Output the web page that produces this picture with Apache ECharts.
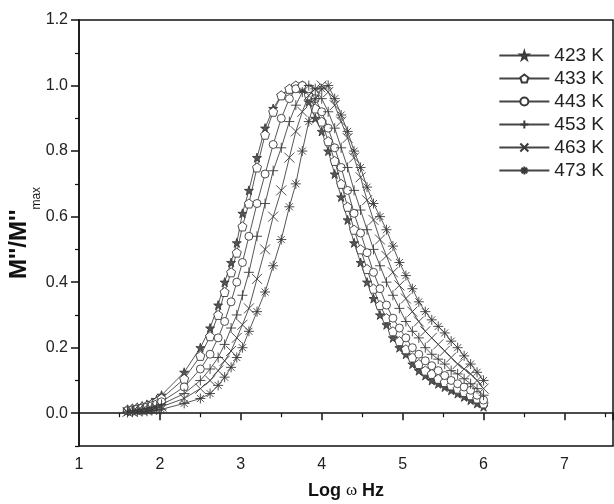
<!DOCTYPE html>
<html>
<head>
<meta charset="utf-8">
<script src="https://cdn.jsdelivr.net/npm/echarts@6/dist/echarts.min.js"></script>
<style>
  html, body { margin: 0; padding: 0; background: #fff; }
  #main { width: 614px; height: 504px; }
</style>
</head>
<body>
<div id="main"></div>
<script>
// log of angular frequency, shared by all temperatures
var logW = [1.60, 1.66, 1.72, 1.78, 1.84, 1.90, 1.96, 2.02,
            2.30, 2.50, 2.62, 2.72, 2.80, 2.88, 2.95, 3.02, 3.10,
            3.20, 3.30, 3.40, 3.50, 3.60,
            3.68, 3.76, 3.84, 3.92, 4.00, 4.08, 4.16, 4.24, 4.32, 4.40,
            4.48, 4.56, 4.64, 4.72, 4.80, 4.88, 4.96, 5.04, 5.12, 5.20,
            5.28, 5.36, 5.44, 5.52, 5.60, 5.68, 5.76, 5.84, 5.92, 6.00];

var m423 = [0.012, 0.015, 0.018, 0.022, 0.027, 0.033, 0.042, 0.055,
            0.125, 0.20, 0.26, 0.33, 0.40, 0.46, 0.52, 0.61, 0.68,
            0.78, 0.87, 0.93, 0.97, 0.99,
            1.00, 0.99, 0.95, 0.90, 0.86, 0.80, 0.73, 0.66, 0.59, 0.52,
            0.46, 0.40, 0.35, 0.30, 0.27, 0.23, 0.20, 0.18, 0.15, 0.13,
            0.115, 0.10, 0.09, 0.08, 0.07, 0.06, 0.05, 0.04, 0.03, 0.02];
var m433 = [0.010, 0.013, 0.016, 0.019, 0.023, 0.028, 0.035, 0.045,
            0.105, 0.175, 0.235, 0.30, 0.37, 0.43, 0.49, 0.57, 0.64,
            0.75, 0.85, 0.92, 0.97, 0.99,
            1.00, 1.00, 0.97, 0.93, 0.89, 0.83, 0.77, 0.70, 0.63, 0.56,
            0.50, 0.44, 0.38, 0.33, 0.29, 0.25, 0.22, 0.195, 0.17, 0.15,
            0.13, 0.12, 0.105, 0.095, 0.085, 0.075, 0.065, 0.055, 0.045, 0.03];
var m443 = [0.008, 0.010, 0.013, 0.016, 0.019, 0.023, 0.028, 0.035,
            0.08, 0.135, 0.18, 0.23, 0.28, 0.34, 0.40, 0.46, 0.54,
            0.64, 0.73, 0.82, 0.90, 0.96,
            0.99, 1.00, 0.99, 0.96, 0.92, 0.87, 0.81, 0.75, 0.68, 0.61,
            0.55, 0.49, 0.43, 0.38, 0.33, 0.29, 0.26, 0.23, 0.20, 0.18,
            0.16, 0.145, 0.13, 0.115, 0.10, 0.09, 0.08, 0.07, 0.055, 0.04];
var m453 = [0.006, 0.008, 0.010, 0.012, 0.015, 0.018, 0.022, 0.027,
            0.06, 0.10, 0.135, 0.17, 0.21, 0.26, 0.30, 0.36, 0.43,
            0.54, 0.64, 0.74, 0.81, 0.89,
            0.94, 0.98, 1.00, 0.99, 0.96, 0.92, 0.87, 0.81, 0.75, 0.68,
            0.62, 0.56, 0.50, 0.45, 0.40, 0.36, 0.32, 0.28, 0.25, 0.23,
            0.20, 0.18, 0.165, 0.15, 0.13, 0.12, 0.105, 0.09, 0.075, 0.055];
var m463 = [0.004, 0.005, 0.007, 0.009, 0.011, 0.013, 0.016, 0.020,
            0.045, 0.075, 0.10, 0.13, 0.16, 0.19, 0.23, 0.27, 0.32,
            0.41, 0.50, 0.60, 0.68, 0.78,
            0.86, 0.92, 0.97, 0.99, 1.00, 0.98, 0.94, 0.89, 0.84, 0.78,
            0.72, 0.65, 0.59, 0.53, 0.48, 0.43, 0.39, 0.35, 0.31, 0.28,
            0.25, 0.23, 0.21, 0.19, 0.17, 0.15, 0.135, 0.12, 0.10, 0.075];
var m473 = [0.002, 0.003, 0.004, 0.005, 0.006, 0.008, 0.010, 0.012,
            0.03, 0.045, 0.06, 0.085, 0.11, 0.14, 0.17, 0.20, 0.25,
            0.31, 0.37, 0.45, 0.53, 0.63,
            0.70, 0.80, 0.89, 0.96, 0.99, 1.00, 0.96, 0.91, 0.86, 0.80,
            0.75, 0.69, 0.64, 0.60, 0.56, 0.51, 0.46, 0.42, 0.38, 0.34,
            0.31, 0.285, 0.265, 0.245, 0.22, 0.20, 0.175, 0.15, 0.125, 0.10];

var names = ['423 K', '433 K', '443 K', '453 K', '463 K', '473 K'];
var yTicks = [0, 0.2, 0.4, 0.6, 0.8, 1.0, 1.2];
var yMinor = [-0.1, 0.1, 0.3, 0.5, 0.7, 0.9, 1.1];

var chart = echarts.init(document.getElementById('main'), null, {renderer: 'canvas'});

var ink = '#3a3a3a';
var marks = [
    {sym: 'path://M50 0 L61 35 L98 35 L68 57 L79 91 L50 70 L21 91 L32 57 L2 35 L39 35 Z', size: 9, fill: '#555'},
    {sym: 'path://M50 0 L98 36 L80 95 L20 95 L2 36 Z', size: 9, fill: '#fff'},
    {sym: 'circle', size: 8, fill: '#fff'},
    {sym: 'path://M50 0 L50 100 M0 50 L100 50', size: 10, fill: '#fff'},
    {sym: 'path://M0 0 L100 100 M100 0 L0 100', size: 10, fill: '#fff'},
    {sym: 'path://M50 0 L50 100 M0 50 L100 50 M15 15 L85 85 M85 15 L15 85', size: 10, fill: '#fff'}
];
var vals = [m423, m433, m443, m453, m463, m473];

function pairs(ys) {
    return logW.map(function (x, i) { return [x, ys[i]]; });
}

var series = vals.map(function (ys, k) {
    return {
        name: names[k],
        type: 'line',
        data: pairs(ys),
        symbol: marks[k].sym,
        symbolSize: marks[k].size,
        showAllSymbol: true,
        lineStyle: {color: '#444', width: 0.9},
        itemStyle: {color: marks[k].fill, borderColor: ink, borderWidth: 0.9},
        emphasis: {disabled: true},
        z: 2 + k
    };
});

var option = {
    backgroundColor: '#fff',
    animation: false,
    textStyle: {fontFamily: 'Liberation Sans, Arial, sans-serif'},
    grid: {left: 79, right: 1, top: 20, bottom: 58, outerBoundsMode: 'none',
           show: true, borderColor: '#111', borderWidth: 1.5},
    legend: {
        orient: 'vertical',
        right: 5,
        top: 41,
        itemWidth: 50,
        itemHeight: 10,
        itemGap: 4,
        data: names,
        textStyle: {fontSize: 19, color: '#222', fontFamily: 'Liberation Sans, Arial, sans-serif'}
    },
    xAxis: {
        type: 'value',
        min: 1,
        max: 7.6,
        interval: 1,
        name: '{b|Log }{w|ω}{b| Hz}',
        nameLocation: 'middle',
        nameGap: 36,
        nameMoveOverlap: false,
        nameTextStyle: {
            rich: {
                b: {fontSize: 18, fontWeight: 'bold', color: '#111', fontFamily: 'Liberation Sans, Arial, sans-serif'},
                w: {fontSize: 17, color: '#111', fontFamily: 'Liberation Serif, Times New Roman, serif'}
            }
        },
        axisLine: {lineStyle: {color: '#111', width: 1.5}},
        axisTick: {inside: false, length: 7, lineStyle: {color: '#111', width: 1.5}},
        minorTick: {show: true, splitNumber: 2, length: 4, lineStyle: {color: '#111', width: 1.2}},
        splitLine: {show: false},
        axisLabel: {fontSize: 16, color: '#222', margin: 11,
            formatter: function (v) { return v > 7.5 ? '' : String(v); }}
    },
    yAxis: [{
        type: 'value',
        min: -0.1,
        max: 1.2,
        name: "{b|M''/M''}{s|max}",
        nameLocation: 'middle',
        nameRotate: 90,
        nameGap: 36,
        nameMoveOverlap: false,
        nameTextStyle: {
            rich: {
                b: {fontSize: 24, fontWeight: 'bold', color: '#111', fontFamily: 'Liberation Sans, Arial, sans-serif'},
                s: {fontSize: 12, color: '#111', padding: [36, 0, 0, 0], fontFamily: 'Liberation Sans, Arial, sans-serif'}
            }
        },
        axisLine: {lineStyle: {color: '#111', width: 1.5}},
        axisTick: {inside: false, length: 8, customValues: yTicks, lineStyle: {color: '#111', width: 1.5}},
        splitLine: {show: false},
        axisLabel: {fontSize: 16, color: '#222', margin: 11, customValues: yTicks,
            formatter: function (v) { return v.toFixed(1); }}
    }, {
        type: 'value',
        position: 'left',
        min: -0.1,
        max: 1.2,
        axisLine: {show: false},
        axisTick: {inside: false, length: 4, customValues: yMinor, lineStyle: {color: '#111', width: 1.2}},
        axisLabel: {show: false},
        splitLine: {show: false}
    }],
    series: series
};

chart.setOption(option);
</script>
</body>
</html>
